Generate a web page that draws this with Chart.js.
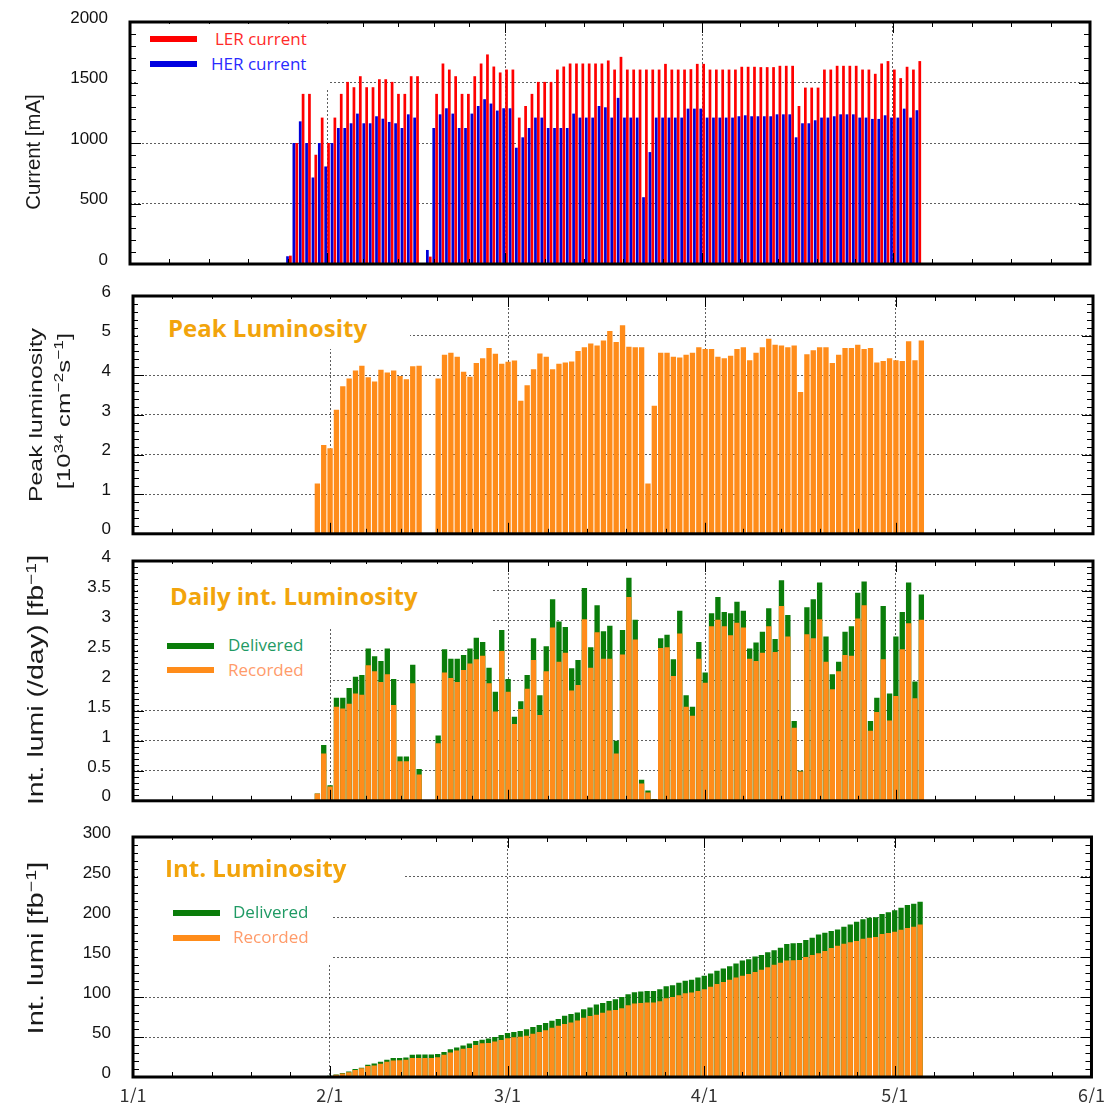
<!DOCTYPE html>
<html>
<head>
<meta charset="utf-8">
<script src="https://cdn.jsdelivr.net/npm/chart.js@4.4.0/dist/chart.umd.min.js"></script>
<style>
  body { margin: 0; background: #fff; width: 1112px; height: 1103px; position: relative; overflow: hidden; }
  canvas { position: absolute; left: 0; }
  .box { position: absolute; background: #fff; z-index: 2; }
  .sw { position: absolute; width: 47px; height: 6px; z-index: 3; }
  .lg { position: absolute; z-index: 3; font-family: 'Open Sans', Lato, sans-serif; font-size: 17px; line-height: 20px; white-space: nowrap; }
  .ttl { position: absolute; z-index: 3; font-family: 'Open Sans', Lato, sans-serif; font-weight: bold; font-size: 24px; line-height: 28px; color: #f2a40c; white-space: nowrap; }
  .ytitle { position: absolute; z-index: 3; white-space: nowrap; font-family: 'Liberation Sans', Arial, sans-serif; line-height: 1; color: #1a1a1a; }
  .ytitle sup { font-size: 0.68em; vertical-align: 0.5em; line-height: 0; }
</style>
</head>
<body>
<canvas id="current" width="1112" height="276" style="top:0px"></canvas>
<canvas id="peak" width="1112" height="262" style="top:282px"></canvas>
<canvas id="daily" width="1112" height="264" style="top:547px"></canvas>
<canvas id="integrated" width="1112" height="285" style="top:818px"></canvas>

<!-- y axis titles (centre x, centre y, length along the axis) -->
<div class="ytitle" style="left:33px;top:152px;font-size:20px" data-len="115">Current [mA]</div>
<div class="ytitle" style="left:35px;top:415px;font-size:19px" data-len="174">Peak luminosity</div>
<div class="ytitle" style="left:63px;top:411px;font-size:19px" data-len="157">[10<sup>34</sup> cm<sup>−2</sup>s<sup>−1</sup>]</div>
<div class="ytitle" style="left:36px;top:680px;font-size:22px" data-len="250">Int. lumi (/day) [fb<sup>−1</sup>]</div>
<div class="ytitle" style="left:36px;top:948px;font-size:22px" data-len="173">Int. lumi [fb<sup>−1</sup>]</div>

<!-- panel 1 legend -->
<div class="box" style="left:138px;top:24px;width:191px;height:64px"></div>
<div class="sw" style="left:150px;top:36px;background:#ff0000"></div>
<div class="lg" style="left:215px;top:29px;color:#ff2a2a">LER current</div>
<div class="sw" style="left:150px;top:61px;background:#0000e0"></div>
<div class="lg" style="left:211px;top:54px;color:#2a2aff">HER current</div>

<!-- panel 2 title -->
<div class="box" style="left:138px;top:299px;width:272px;height:50px"></div>
<div class="ttl" style="left:168px;top:314px">Peak Luminosity</div>

<!-- panel 3 title + legend -->
<div class="box" style="left:138px;top:564px;width:354px;height:64px"></div>
<div class="box" style="left:138px;top:628px;width:192px;height:64px"></div>
<div class="ttl" style="left:170px;top:582px">Daily int. Luminosity</div>
<div class="sw" style="left:167px;top:643px;background:#0a7d0a"></div>
<div class="lg" style="left:228px;top:635px;color:#1f9a64">Delivered</div>
<div class="sw" style="left:167px;top:667px;background:#ff8c1a"></div>
<div class="lg" style="left:228px;top:660px;color:#ff9b6a">Recorded</div>

<!-- panel 4 title + legend -->
<div class="box" style="left:138px;top:840px;width:265px;height:55px"></div>
<div class="box" style="left:138px;top:895px;width:195px;height:70px"></div>
<div class="ttl" style="left:165px;top:854px">Int. Luminosity</div>
<div class="sw" style="left:173px;top:910px;background:#0a7d0a"></div>
<div class="lg" style="left:233px;top:902px;color:#1f9a64">Delivered</div>
<div class="sw" style="left:173px;top:935px;background:#ff8c1a"></div>
<div class="lg" style="left:233px;top:927px;color:#ff9b6a">Recorded</div>

<script>
// day 0 = 1/1
const monthLabels = ['1/1', '2/1', '3/1', '4/1', '5/1', '6/1'];
const monthStartDays = [0, 31, 59, 90, 120, 151];

// beam currents [mA], one value per day from day 25
const currentFirstDay = 25;
const herCurrent = [
  64, 1000, 1179, 1000, 715, 1000, 806, 1000, 1124, 1124,
  1163, 1243, 1163, 1163, 1221, 1201, 1174, 1163, 1124, 1237,
  1210, null, 116, 1124, 1237, 1287, 1243, 1124, 1124, 1243,
  1306, 1362, 1326, 1268, 1287, 1287, 961, 1047, 1124, 1210,
  1210, 1124, 1124, 1124, 1124, 1243, 1210, 1210, 1210, 1306,
  1295, 1210, 1373, 1210, 1210, 1210, 552, 925, 1210, 1210,
  1210, 1210, 1210, 1284, 1284, 1284, 1210, 1210, 1210, 1210,
  1210, 1221, 1229, 1221, 1221, 1221, 1221, 1237, 1237, 1237,
  1047, 1163, 1163, 1188, 1210, 1210, 1221, 1237, 1237, 1237,
  1210, 1210, 1199, 1199, 1229, 1210, 1210, 1284, 1210, 1271
];
const lerCurrent = [
  69, 1000, 1406, 1406, 903, 1210, 1000, 1210, 1406, 1505,
  1461, 1552, 1461, 1461, 1527, 1527, 1505, 1406, 1406, 1552,
  1552, null, 61, 1406, 1657, 1607, 1552, 1406, 1406, 1552,
  1657, 1732, 1632, 1583, 1607, 1607, 1210, 1306, 1406, 1505,
  1505, 1505, 1607, 1632, 1657, 1657, 1657, 1657, 1657, 1657,
  1682, 1607, 1712, 1607, 1607, 1607, 1607, 1607, 1607, 1654,
  1607, 1607, 1607, 1610, 1654, 1654, 1607, 1607, 1607, 1607,
  1607, 1630, 1630, 1630, 1627, 1627, 1627, 1638, 1638, 1638,
  1306, 1458, 1458, 1458, 1607, 1607, 1638, 1638, 1638, 1638,
  1607, 1607, 1572, 1657, 1677, 1607, 1536, 1630, 1607, 1677
];

// luminosity, one value per day from day 29
const lumiFirstDay = 29;
const peakLumi = [
  1.27, 2.24, 2.16, 3.13, 3.72, 3.92, 4.12, 4.24, 3.95, 3.84,
  4.14, 4.07, 4.12, 3.98, 3.90, 4.23, 4.24, null, null, 3.92,
  4.52, 4.57, 4.47, 4.09, 3.96, 4.31, 4.43, 4.69, 4.54, 4.29,
  4.34, 4.37, 3.36, 3.75, 4.15, 4.55, 4.47, 4.15, 4.29, 4.32,
  4.35, 4.61, 4.71, 4.80, 4.75, 4.88, 5.12, 4.84, 5.26, 4.72,
  4.71, 4.71, 1.27, 3.23, 4.57, 4.57, 4.47, 4.45, 4.52, 4.57,
  4.71, 4.66, 4.66, 4.47, 4.43, 4.49, 4.66, 4.71, 4.38, 4.57,
  4.71, 4.92, 4.77, 4.75, 4.71, 4.75, 3.58, 4.53, 4.63, 4.71,
  4.71, 4.31, 4.52, 4.69, 4.69, 4.77, 4.66, 4.69, 4.32, 4.36,
  4.43, 4.38, 4.36, 4.86, 4.38, 4.88
];
const dailyDelivered = [
  0.12, 0.93, 0.26, 1.72, 1.72, 1.88, 2.07, 2.10, 2.54, 2.41,
  2.33, 2.54, 2.03, 0.74, 0.74, 2.27, 0.53, null, null, 1.09,
  2.53, 2.37, 2.37, 2.43, 2.54, 2.72, 2.65, 2.22, 1.82, 2.85,
  2.03, 1.40, 1.66, 2.10, 2.71, 1.76, 2.58, 3.36, 2.99, 2.90,
  2.21, 2.35, 3.55, 2.56, 3.26, 2.83, 2.92, 1.00, 2.85, 3.72,
  3.02, 0.35, 0.17, 0.03, 2.71, 2.77, 2.36, 3.17, 1.76, 1.57,
  2.65, 2.14, 3.13, 3.40, 3.15, 3.13, 3.32, 3.17, 2.54, 2.64,
  2.82, 3.21, 2.70, 3.68, 3.10, 1.33, 0.50, 3.23, 3.36, 3.64,
  2.74, 2.11, 2.32, 2.82, 2.91, 3.47, 3.66, 1.33, 1.72, 3.25,
  1.79, 2.74, 3.15, 3.64, 1.99, 3.44
];
const dailyRecorded = [
  0.12, 0.79, 0.24, 1.57, 1.54, 1.62, 1.79, 1.77, 2.26, 2.16,
  1.98, 2.11, 1.60, 0.66, 0.66, 1.96, 0.44, null, null, 0.96,
  2.14, 2.05, 1.98, 2.18, 2.29, 2.36, 2.42, 1.96, 1.49, 2.50,
  1.82, 1.28, 1.53, 1.87, 2.35, 1.43, 2.16, 2.89, 2.32, 2.47,
  1.84, 1.93, 3.03, 2.22, 2.81, 2.37, 2.37, 0.79, 2.44, 3.40,
  2.69, 0.29, 0.14, 0.02, 2.55, 2.56, 2.08, 2.79, 1.57, 1.42,
  2.37, 1.97, 2.91, 3.02, 2.91, 2.76, 2.97, 2.89, 2.37, 2.33,
  2.47, 2.91, 2.48, 3.25, 2.74, 1.22, 0.49, 2.78, 2.71, 3.03,
  2.32, 1.86, 2.16, 2.43, 2.42, 3.04, 3.26, 1.17, 1.48, 2.36,
  1.34, 1.75, 2.53, 2.96, 1.71, 3.02
];
const intDelivered = [
  0.2, 1.2, 1.5, 3.2, 4.9, 6.8, 9.9, 11.6, 15.3, 17.0,
  19.0, 21.5, 23.6, 23.6, 24.4, 27.7, 28.0, 28.0, 28.0, 28.8,
  31.4, 34.7, 36.8, 39.3, 41.8, 45.1, 46.7, 48.0, 50.0, 52.5,
  55.0, 56.3, 57.6, 59.6, 62.4, 65.0, 67.4, 70.3, 72.4, 76.5,
  78.6, 80.6, 84.8, 86.8, 90.6, 92.6, 95.1, 97.2, 100.0, 103.4,
  105.9, 107.0, 107.5, 107.5, 109.6, 113.3, 114.6, 117.9, 120.3, 121.6,
  124.5, 126.6, 129.4, 132.8, 135.6, 138.5, 141.9, 145.6, 147.2, 150.5,
  152.6, 155.9, 158.4, 161.7, 166.3, 167.1, 167.6, 171.2, 174.1, 178.2,
  180.3, 182.4, 184.5, 187.8, 190.7, 194.0, 197.3, 199.0, 199.8, 203.9,
  206.0, 208.4, 211.7, 215.1, 216.7, 219.2
];
const intRecorded = [
  0.2, 1.0, 1.3, 2.8, 4.3, 5.9, 8.7, 10.8, 13.6, 14.5,
  16.5, 19.0, 20.7, 20.9, 21.5, 23.6, 23.8, 23.8, 23.8, 24.8,
  27.7, 30.6, 33.1, 35.2, 36.4, 40.1, 42.2, 42.6, 44.3, 46.3,
  48.4, 49.6, 50.4, 51.7, 54.2, 56.2, 58.3, 61.5, 64.0, 66.2,
  68.2, 70.7, 74.0, 76.1, 77.8, 80.2, 83.1, 83.8, 86.0, 89.7,
  91.8, 92.6, 93.0, 93.0, 94.7, 98.4, 100.0, 102.1, 104.6, 105.5,
  107.5, 109.6, 112.9, 116.2, 118.7, 121.6, 124.5, 126.6, 128.6, 131.1,
  134.0, 137.3, 140.2, 142.7, 145.6, 146.0, 146.4, 150.1, 152.6, 154.7,
  157.6, 161.3, 164.2, 166.7, 168.3, 170.0, 172.9, 174.1, 174.9, 178.7,
  179.9, 181.6, 184.0, 186.1, 187.8, 190.7
];

const ORANGE = '#ff8c1a';
const GREEN = '#0a7d0a';
const GRID = 'rgba(40,40,40,0.75)';
const NONE = 'rgba(0,0,0,0)';

Chart.defaults.font.family = "'Liberation Sans', Arial, sans-serif";

const toPoints = (first, arr) =>
  arr.map((v, i) => ({ x: first + i, y: v })).filter(p => p.y !== null);

// frame round the plot area with small inward ticks
const framePlugin = {
  id: 'frame',
  afterDraw(chart, args, opts) {
    const { ctx, chartArea: a, scales } = chart;
    const xs = scales.x, ys = scales.y;
    ctx.save();
    ctx.strokeStyle = '#000';
    ctx.lineWidth = 1;
    ctx.beginPath();
    const n = Math.round((ys.max - ys.min) / opts.yMinor);
    for (let i = 0; i <= n; i++) {
      const v = ys.min + i * opts.yMinor;
      const y = Math.round(ys.getPixelForValue(v)) + 0.5;
      const r = v / opts.yMajor;
      const len = Math.abs(r - Math.round(r)) < 1e-6 ? 11 : 6;
      ctx.moveTo(a.left, y); ctx.lineTo(a.left + len, y);
      ctx.moveTo(a.right, y); ctx.lineTo(a.right - len, y);
    }
    for (let m = 0; m < monthStartDays.length - 1; m++) {
      const s = monthStartDays[m], e = monthStartDays[m + 1];
      for (let k = 0; k < 5; k++) {
        const x = Math.round(xs.getPixelForValue(s + (e - s) * k / 5)) + 0.5;
        const len = k === 0 ? 11 : 5;
        ctx.moveTo(x, a.top); ctx.lineTo(x, a.top + len);
        ctx.moveTo(x, a.bottom); ctx.lineTo(x, a.bottom - len);
      }
    }
    ctx.stroke();
    ctx.lineWidth = 3;
    ctx.strokeRect(a.left, a.top, a.right - a.left, a.bottom - a.top);
    ctx.restore();
  }
};

function makePanel(id, p) {
  return new Chart(document.getElementById(id), {
    type: 'bar',
    data: { datasets: p.datasets },
    options: {
      responsive: false,
      animation: false,
      layout: { padding: p.padding },
      plugins: {
        legend: { display: false },
        tooltip: { enabled: false },
        frame: { yMinor: p.yMinor, yMajor: p.yStep }
      },
      scales: {
        x: {
          type: 'linear',
          min: 0,
          max: 151,
          offset: false,
          afterBuildTicks: s => { s.ticks = monthStartDays.map(v => ({ value: v })); },
          afterFit: s => { s.height = p.xHeight; },
          grid: {
            offset: false,
            drawTicks: false,
            lineWidth: 1,
            color: c => (c.tick && c.tick.value > 0 && c.tick.value < 151) ? GRID : NONE
          },
          border: { display: false, dash: [2, 2] },
          ticks: {
            display: p.showX,
            autoSkip: false,
            maxRotation: 0,
            padding: 7,
            color: '#333',
            font: { family: "'Noto Sans CJK JP', sans-serif", size: 18 },
            callback: v => monthLabels[monthStartDays.indexOf(v)]
          }
        },
        y: {
          min: p.yMin,
          max: p.yMax,
          afterFit: s => { s.width = p.yWidth; },
          grid: {
            drawTicks: true,
            tickLength: 22,
            tickColor: NONE,
            lineWidth: 1,
            color: c => (c.tick && c.tick.value > p.yMin && c.tick.value < p.yMax) ? GRID : NONE
          },
          border: { display: false, dash: [2, 2] },
          ticks: {
            stepSize: p.yStep,
            padding: 0,
            labelOffset: -4,
            color: '#111',
            font: { size: 17 },
            callback: v => String(v)
          }
        }
      }
    },
    plugins: [framePlugin]
  });
}

makePanel('current', {
  padding: { top: 22, right: 22, bottom: 12, left: 0 },
  yWidth: 130, xHeight: 0, showX: false,
  yMin: 0, yMax: 2000, yStep: 500, yMinor: 100,
  datasets: [
    { label: 'HER current', data: toPoints(currentFirstDay, herCurrent), backgroundColor: '#0000d8',
      categoryPercentage: 0.9, barPercentage: 0.95 },
    { label: 'LER current', data: toPoints(currentFirstDay, lerCurrent), backgroundColor: '#ff0000',
      categoryPercentage: 0.9, barPercentage: 0.95 }
  ]
});

makePanel('peak', {
  padding: { top: 14, right: 19, bottom: 7, left: 0 },
  yWidth: 133, xHeight: 0, showX: false,
  yMin: 0, yMax: 6, yStep: 1, yMinor: 0.2,
  datasets: [
    { label: 'Peak luminosity', data: toPoints(lumiFirstDay, peakLumi), backgroundColor: ORANGE,
      categoryPercentage: 1, barPercentage: 0.84 }
  ]
});

makePanel('daily', {
  padding: { top: 14, right: 19, bottom: 8, left: 0 },
  yWidth: 133, xHeight: 0, showX: false,
  yMin: 0, yMax: 4, yStep: 0.5, yMinor: 0.1,
  datasets: [
    { label: 'Recorded', data: toPoints(lumiFirstDay, dailyRecorded), backgroundColor: ORANGE,
      grouped: false, categoryPercentage: 1, barPercentage: 0.84 },
    { label: 'Delivered', data: toPoints(lumiFirstDay, dailyDelivered), backgroundColor: GREEN,
      grouped: false, categoryPercentage: 1, barPercentage: 0.84 }
  ]
});

makePanel('integrated', {
  padding: { top: 19, right: 19, bottom: 0, left: 0 },
  yWidth: 133, xHeight: 26, showX: true,
  yMin: 0, yMax: 300, yStep: 50, yMinor: 10,
  datasets: [
    { label: 'Recorded', data: toPoints(lumiFirstDay, intRecorded), backgroundColor: ORANGE,
      grouped: false, categoryPercentage: 1, barPercentage: 0.84 },
    { label: 'Delivered', data: toPoints(lumiFirstDay, intDelivered), backgroundColor: GREEN,
      grouped: false, categoryPercentage: 1, barPercentage: 0.84 }
  ]
});

// rotate the axis titles and stretch them to the length they have in the picture
document.querySelectorAll('.ytitle').forEach(el => {
  const k = Number(el.dataset.len) / el.offsetWidth;
  el.style.transform = 'translate(-50%, -50%) rotate(-90deg) scaleX(' + k.toFixed(3) + ')';
});
</script>
</body>
</html>
